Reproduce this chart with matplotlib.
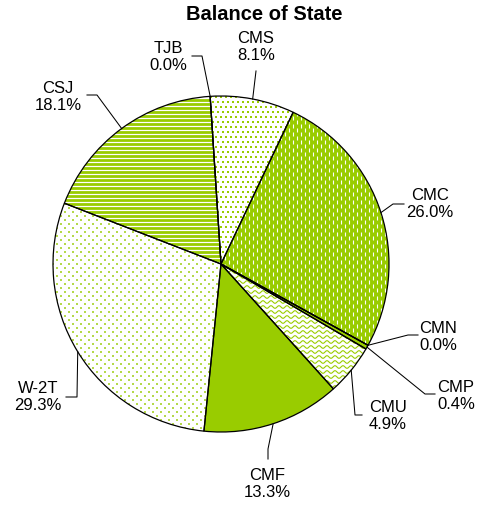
import numpy as np
import matplotlib.pyplot as plt
from matplotlib.collections import LineCollection

plt.rcParams['font.family'] = ['Liberation Sans', 'DejaVu Sans']

names = ["CMS", "CMC", "CMN", "CMP", "CMU", "CMF", "W-2T", "CSJ", "TJB"]
shares = [8.1, 26.0, 0.0, 0.4, 4.9, 13.3, 29.3, 18.1, 0.0]
patterns = ["squares", "dashes", "solid", "solid", "waves", "solid", "dots", "stripes", "solid"]

green = "#99cc00"
W, H = 479, 510
cx, cy, R = 221, 265, 168

# label layout in pixels: text centre and leader bend points
label_pos = {"CMS": (256, 47), "CMC": (430, 204), "CMN": (438, 337), "CMP": (456, 396),
             "CMU": (388, 416), "CMF": (267, 484), "W-2T": (38, 397), "CSJ": (58, 97),
             "TJB": (168, 57)}
leader = {"CMS": [(256, 72)], "CMC": [(393, 205), (404, 205)],
          "CMN": [(408, 336), (418, 336)], "CMP": [(425, 395), (435, 395)],
          "CMU": [(355, 416), (362, 416)], "CMF": [(268, 450), (268, 460)],
          "W-2T": [(77, 398), (66, 398)], "CSJ": [(97, 96), (87, 96)],
          "TJB": [(202, 57), (192, 57)]}


def to_data(p):
    return (p[0] - cx) / R, (cy - p[1]) / R


fig = plt.figure(figsize=(W / 100, H / 100), dpi=100)
ax = fig.add_axes([(cx - R) / W, (H - cy - R) / H, 2 * R / W, 2 * R / H])

fills = [green if p in ("solid", "dashes") else "white" for p in patterns]
wedges, _ = ax.pie(shares, startangle=93.7, counterclock=False, radius=1,
                   colors=fills, wedgeprops=dict(linewidth=0, zorder=1))

u = 1.0 / R  # one pixel in data units


def add_texture(kind, w):
    arts = []
    if kind == "squares":
        xs, ys = np.meshgrid(np.arange(-R, R, 5), np.arange(-R, R, 5))
        xs = xs + (np.arange(xs.shape[0])[:, None] % 2) * 2.5
        arts.append(ax.scatter(xs.ravel() * u, ys.ravel() * u, s=4.2, marker="s",
                               color=green, linewidths=0, zorder=2))
    elif kind == "dots":
        xs, ys = np.meshgrid(np.arange(-R, R, 8), np.arange(-R, R, 4))
        xs = xs + (np.arange(xs.shape[0])[:, None] % 2) * 4
        arts.append(ax.scatter(xs.ravel() * u, ys.ravel() * u, s=1.6, marker="s",
                               color="#b5d94c", linewidths=0, zorder=2))
    elif kind == "dashes":
        segs = []
        for j, y in enumerate(np.arange(-R, R, 4)):
            off = 4 if j % 2 else 0
            for x in np.arange(-R + off, R, 8):
                segs.append([(x * u, y * u), (x * u, (y + 4) * u)])
        lc = LineCollection(segs, colors="white", linewidths=0.8, zorder=2)
        ax.add_collection(lc)
        arts.append(lc)
    elif kind == "waves":
        xx = np.arange(-R, R, 0.5)
        segs = [np.column_stack([xx * u, (y + 1.3 * np.sin(2 * np.pi * xx / 8)) * u])
                for y in np.arange(-R, R, 5)]
        lc = LineCollection(segs, colors=green, linewidths=0.8, zorder=2)
        ax.add_collection(lc)
        arts.append(lc)
    elif kind == "stripes":
        segs = [[(-R * u, y * u), (R * u, y * u)] for y in np.arange(-R, R, 4)]
        lc = LineCollection(segs, colors=green, linewidths=2.0, zorder=2)
        ax.add_collection(lc)
        arts.append(lc)
    for a in arts:
        a.set_clip_path(w)


for kind, w in zip(patterns, wedges):
    add_texture(kind, w)

# outlines on top of the textures
ax.pie(shares, startangle=93.7, counterclock=False, radius=1,
       wedgeprops=dict(fill=False, edgecolor="black", linewidth=0.9, zorder=5))

for name, val, w in zip(names, shares, wedges):
    mid = np.deg2rad((w.theta1 + w.theta2) / 2)
    pts = [(np.cos(mid), np.sin(mid))] + [to_data(p) for p in leader[name]]
    pts = np.array(pts)
    ax.plot(pts[:, 0], pts[:, 1], color="black", linewidth=0.75, clip_on=False, zorder=6)
    tx, ty = to_data(label_pos[name])
    ax.text(tx, ty, f"{name}\n{val:.1f}%", ha="center", va="center", fontsize=12,
            linespacing=1.2, clip_on=False)

ax.set_xlim(-1, 1)
ax.set_ylim(-1, 1)
ax.set_aspect("equal")
ax.axis("off")

fig.text(264 / W, 1 - 14 / H, "Balance of State", ha="center", va="center",
         fontsize=14.5, fontweight="bold")

fig.savefig("out.png", dpi=100)
